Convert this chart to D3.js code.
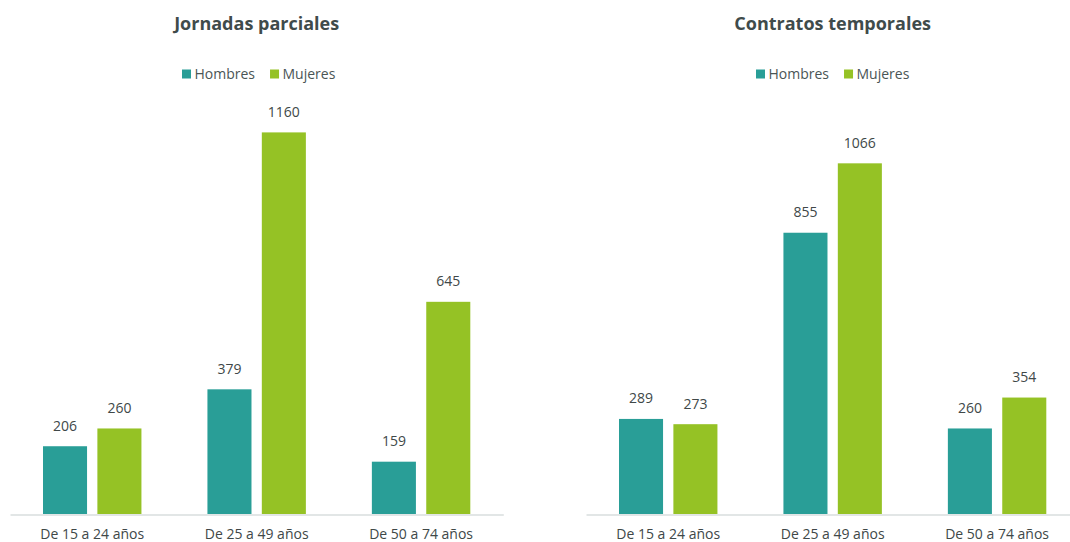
<!DOCTYPE html>
<html>
<head>
<meta charset="utf-8">
<script src="https://cdn.jsdelivr.net/npm/d3@7"></script>
<style>
  body { margin: 0; background: #fff; overflow: hidden; }
  svg text { font-family: "Open Sans", sans-serif; }
</style>
</head>
<body>
<div id="chart"></div>
<script>
// age groups and series
var categories = ["De 15 a 24 años", "De 25 a 49 años", "De 50 a 74 años"];
var series = ["Hombres", "Mujeres"];
var colors = ["#299e97", "#95c225"];

// Jornadas parciales
var parcialesHombres = [206, 379, 159];
var parcialesMujeres = [260, 1160, 645];

// Contratos temporales
var temporalesHombres = [289, 855, 260];
var temporalesMujeres = [273, 1066, 354];

var panels = [
  { title: "Jornadas parciales", values: [parcialesHombres, parcialesMujeres], x0: 10, x1: 503.3, legendX: 182 },
  { title: "Contratos temporales", values: [temporalesHombres, temporalesMujeres], x0: 586, x1: 1079.3, legendX: 756 }
];

var width = 1070, height = 542;
var svg = d3.select("#chart").append("svg")
  .attr("width", width)
  .attr("height", height);

// both panels share one value scale
var y = d3.scaleLinear().domain([0, 1160]).range([514, 132.4]);

panels.forEach(function(p) {
  var g = svg.append("g");

  var x = d3.scaleBand().domain(categories).range([p.x0, p.x1]).paddingInner(0).paddingOuter(0);
  var xs = d3.scaleBand().domain(series).range([33, x.bandwidth() - 33]).paddingInner(0.19);

  g.append("text")
    .attr("x", (p.x0 + p.x1) / 2)
    .attr("y", 30)
    .attr("text-anchor", "middle")
    .attr("font-size", 18)
    .attr("font-weight", "bold")
    .attr("fill", "#3f4b4b")
    .text(p.title);

  // legend
  var leg = g.append("g").attr("transform", "translate(" + p.legendX + ",74)");
  var lx = 0;
  series.forEach(function(s, i) {
    leg.append("rect").attr("x", lx).attr("y", -4.5).attr("width", 9).attr("height", 9).attr("fill", colors[i]);
    var t = leg.append("text").attr("x", lx + 12.5).attr("y", 5)
      .attr("font-size", 14).attr("fill", "#4a5555").text(s);
    lx += 12.5 + t.node().getComputedTextLength() + 15;
  });

  // bars
  categories.forEach(function(c, ci) {
    series.forEach(function(s, si) {
      var v = p.values[si][ci];
      var bx = x(c) + xs(s);
      g.append("rect")
        .attr("x", bx)
        .attr("y", y(v))
        .attr("width", xs.bandwidth())
        .attr("height", y(0) - y(v))
        .attr("fill", colors[si]);
      g.append("text")
        .attr("x", bx + xs.bandwidth() / 2)
        .attr("y", y(v) - 15.5)
        .attr("text-anchor", "middle")
        .attr("font-size", 14)
        .attr("fill", "#404848")
        .text(v);
    });
  });

  // category axis
  var axis = g.append("g")
    .attr("transform", "translate(0," + (y(0) + 0.5) + ")")
    .call(d3.axisBottom(x).tickSize(0).tickPadding(15));
  axis.select(".domain").attr("stroke", "#d9dede").attr("stroke-width", 1.5);
  axis.selectAll("text")
    .attr("font-size", 14)
    .attr("fill", "#404848")
    .style("font-family", "'Open Sans', sans-serif");
});
</script>
</body>
</html>
